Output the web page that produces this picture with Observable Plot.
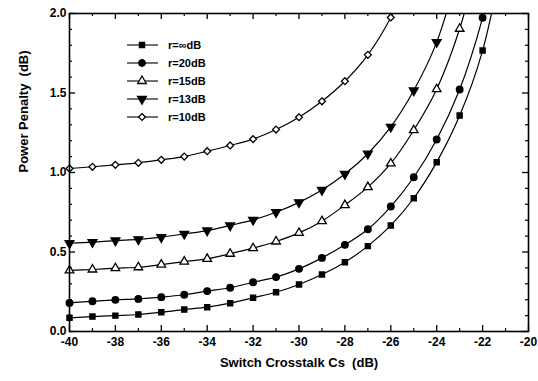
<!DOCTYPE html>
<html><head><meta charset="utf-8">
<script src="https://cdn.jsdelivr.net/npm/d3@7"></script>
<script src="https://cdn.jsdelivr.net/npm/@observablehq/plot@0.6"></script>
<style>
html,body{margin:0;padding:0;background:#fff;}
#chart{position:relative;width:538px;height:381px;}
</style>
</head><body><div id="chart"></div>
<script>
// Switch crosstalk Cs (dB)
const crosstalk = [-40,-39,-38,-37,-36,-35,-34,-33,-32,-31,-30,-29,-28,-27,-26,-25,-24,-23,-22,-21];
const seriesLabels = ["r=\u221EdB","r=20dB","r=15dB","r=13dB","r=10dB"];
// Power penalty (dB) per series, aligned with crosstalk (last value runs past the top)
const penaltyInf = [0.086,0.094,0.100,0.107,0.121,0.138,0.153,0.178,0.212,0.247,0.296,0.358,0.436,0.537,0.667,0.838,1.065,1.358,1.767,2.45];
const penalty20  = [0.180,0.190,0.199,0.205,0.216,0.231,0.254,0.275,0.310,0.342,0.394,0.463,0.545,0.643,0.786,0.970,1.208,1.522,1.973,2.60];
const penalty15  = [0.384,0.390,0.398,0.404,0.421,0.440,0.457,0.489,0.524,0.566,0.620,0.694,0.795,0.908,1.057,1.266,1.524,1.904,2.45];
const penalty13  = [0.555,0.562,0.572,0.579,0.593,0.614,0.635,0.667,0.702,0.750,0.812,0.890,0.990,1.118,1.287,1.516,1.820,2.30];
const penalty10  = [1.025,1.036,1.048,1.061,1.080,1.100,1.134,1.170,1.210,1.270,1.348,1.448,1.574,1.740,1.975,2.30];

const xMajor = [-40,-38,-36,-34,-32,-30,-28,-26,-24,-22,-20];
const xMinor = [-39,-37,-35,-33,-31,-29,-27,-25,-23,-21];
const yMajor = [0,0.5,1.0,1.5,2.0];
const yMinor = [0.1,0.2,0.3,0.4,0.6,0.7,0.8,0.9,1.1,1.2,1.3,1.4,1.6,1.7,1.8,1.9];

const triangleDown = {
  draw(ctx, size) {
    const y = -Math.sqrt(size / (Math.sqrt(3) * 3));
    ctx.moveTo(0, -y * 2);
    ctx.lineTo(-Math.sqrt(3) * y, y);
    ctx.lineTo(Math.sqrt(3) * y, y);
    ctx.closePath();
  }
};

const styles = [
  {values: penaltyInf, symbol: "square",   fill: "black", r: 2.9},
  {values: penalty20,  symbol: "circle",   fill: "black", r: 3.3},
  {values: penalty15,  symbol: "triangle", fill: "white", r: 3.2},
  {values: penalty13,  symbol: triangleDown, fill: "black", r: 3.3},
  {values: penalty10,  symbol: "diamond2", fill: "white", r: 3.1}
];

const W = 538, H = 381, mL = 69, mR = 10, mT = 13, mB = 50;
const fw = W - mL - mR, fh = H - mT - mB;

const marks = [];
styles.forEach((s, k) => {
  const data = s.values.map((v, i) => ({x: crosstalk[i], y: v, series: seriesLabels[k]}));
  marks.push(Plot.line(data, {x: "x", y: "y", curve: "catmull-rom", stroke: "black", strokeWidth: 1.2, clip: true}));
  marks.push(Plot.dot(data.filter(d => d.y <= 2.0), {x: "x", y: "y", symbol: s.symbol, r: s.r, fill: s.fill, stroke: "black", strokeWidth: 1.3}));
});

const chart = Plot.plot({
  width: W, height: H,
  marginLeft: mL, marginRight: mR, marginTop: mT, marginBottom: mB,
  style: {fontFamily: "'Liberation Sans', Arial, sans-serif", fontSize: "12px", fontWeight: "bold", color: "black", background: "white"},
  x: {domain: [-40, -20]},
  y: {domain: [0, 2]},
  marks: [
    // inward ticks
    Plot.tickX(xMajor, {x: d => d, insetTop: fh - 6, stroke: "black", strokeWidth: 1.3}),
    Plot.tickX(xMajor, {x: d => d, insetBottom: fh - 6, stroke: "black", strokeWidth: 1.3}),
    Plot.tickX(xMinor, {x: d => d, insetTop: fh - 3, stroke: "black", strokeWidth: 1.2}),
    Plot.tickX(xMinor, {x: d => d, insetBottom: fh - 3, stroke: "black", strokeWidth: 1.2}),
    Plot.tickY(yMajor, {y: d => d, insetRight: fw - 6, stroke: "black", strokeWidth: 1.3}),
    Plot.tickY(yMajor, {y: d => d, insetLeft: fw - 6, stroke: "black", strokeWidth: 1.3}),
    Plot.tickY(yMinor, {y: d => d, insetRight: fw - 3, stroke: "black", strokeWidth: 1.2}),
    Plot.tickY(yMinor, {y: d => d, insetLeft: fw - 3, stroke: "black", strokeWidth: 1.2}),
    Plot.axisX({ticks: xMajor, tickSize: 0, tickPadding: 6, tickFormat: d => String(d), label: null, fontWeight: "bold"}),
    Plot.axisY({ticks: yMajor, tickSize: 0, tickPadding: 3, tickFormat: d3.format(".1f"), label: null, fontWeight: "bold"}),
    Plot.text(["Switch Crosstalk Cs  (dB)"], {frameAnchor: "bottom", dy: 35, fontSize: 13, fontWeight: "bold", fill: "black"}),
    Plot.text(["Power Penalty  (dB)"], {frameAnchor: "left", dx: -46, rotate: -90, fontSize: 13, fontWeight: "bold", fill: "black"}),
    ...marks,
    Plot.frame({stroke: "black", strokeWidth: 1.6})
  ]
});

document.getElementById("chart").appendChild(chart);

// Legend (inside the frame, top-left)
const svg = d3.select(chart);
const lg = svg.append("g")
  .attr("font-family", "'Liberation Sans', Arial, sans-serif")
  .attr("font-size", 11).attr("font-weight", "bold")
  .attr("text-anchor", "start");
const symMap = {square: d3.symbolSquare, circle: d3.symbolCircle, triangle: d3.symbolTriangle, diamond2: d3.symbolDiamond2};
styles.forEach((s, k) => {
  const cy = 45 + k * 18;
  const g = lg.append("g").attr("transform", `translate(0,${cy})`);
  g.append("line").attr("x1", 127).attr("x2", 158).attr("y1", 0).attr("y2", 0).attr("stroke", "black").attr("stroke-width", 1.1);
  const type = typeof s.symbol === "string" ? symMap[s.symbol] : s.symbol;
  g.append("path").attr("transform", "translate(142,0)")
    .attr("d", d3.symbol(type, s.r * s.r * Math.PI)())
    .attr("fill", s.fill).attr("stroke", "black").attr("stroke-width", 1.3);
  g.append("text").attr("x", 168).attr("y", 0).attr("dy", "0.35em").attr("text-anchor", "start").attr("fill", "black").text(seriesLabels[k]);
});
</script>
</body></html>
